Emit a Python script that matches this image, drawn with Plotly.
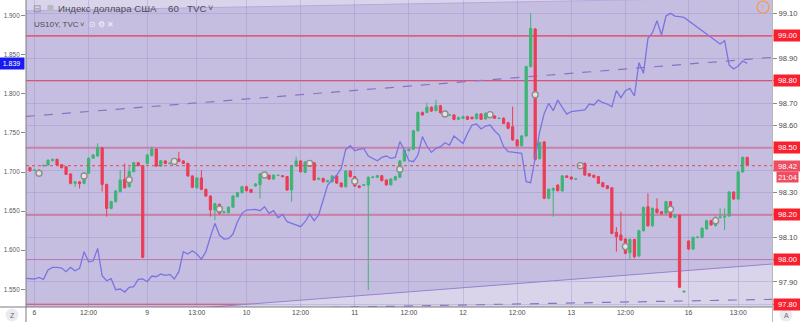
import plotly.graph_objects as go

# ---------------- data ----------------
bar = list(range(-1, 159))  # hourly bar index, 0 = Fri 6 00:00

dxy_open = [
    98.411, 98.399, 98.400, 98.419, 98.423, 98.442, 98.448, 98.424, 98.415, 98.383,
    98.341, 98.347, 98.341, 98.386, 98.453, 98.463, 98.500, 98.336, 98.229, 98.259,
    98.304, 98.359, 98.326, 98.393, 98.433, 98.420, 98.430, 98.465, 98.494, 98.418,
    98.441, 98.429, 98.437, 98.450, 98.441, 98.430, 98.374, 98.321, 98.365, 98.314,
    98.284, 98.222, 98.247, 98.211, 98.210, 98.234, 98.281, 98.299, 98.326, 98.313,
    98.329, 98.335, 98.386, 98.377, 98.360, 98.376, 98.375, 98.371, 98.311, 98.418,
    98.441, 98.390, 98.436, 98.433, 98.359, 98.363, 98.348, 98.348, 98.374, 98.342,
    98.326, 98.396, 98.371, 98.329, 98.332, 98.333, 98.367, 98.368, 98.375, 98.356,
    98.334, 98.356, 98.368, 98.441, 98.487, 98.493, 98.576, 98.658, 98.658, 98.681,
    98.666, 98.688, 98.654, 98.646, 98.647, 98.627, 98.632, 98.639, 98.636, 98.630,
    98.651, 98.629, 98.647, 98.642, 98.631, 98.632, 98.612, 98.594, 98.535, 98.509,
    98.553, 98.863, 99.031, 98.451, 98.526, 98.274, 98.310, 98.333, 98.307, 98.374,
    98.369, 98.360, 98.418, 98.430, 98.384, 98.377, 98.371, 98.344, 98.330, 98.321,
    98.122, 98.110, 98.092, 98.031, 98.090, 98.016, 98.129, 98.236, 98.151, 98.226,
    98.214, 98.207, 98.259, 98.189, 98.199, 97.855, 98.083, 98.047, 98.099, 98.099,
    98.137, 98.174, 98.152, 98.188, 98.190, 98.195, 98.302, 98.271, 98.392, 98.457,
]
dxy_close = [
    98.397, 98.400, 98.392, 98.421, 98.444, 98.448, 98.423, 98.411, 98.381, 98.341,
    98.347, 98.339, 98.386, 98.453, 98.468, 98.502, 98.336, 98.229, 98.259, 98.307,
    98.356, 98.321, 98.393, 98.433, 98.420, 98.010, 98.468, 98.494, 98.418, 98.442,
    98.430, 98.431, 98.440, 98.439, 98.430, 98.374, 98.323, 98.365, 98.314, 98.284,
    98.222, 98.250, 98.207, 98.213, 98.234, 98.284, 98.299, 98.326, 98.308, 98.301,
    98.338, 98.383, 98.375, 98.360, 98.377, 98.377, 98.371, 98.311, 98.418, 98.441,
    98.393, 98.436, 98.430, 98.356, 98.363, 98.348, 98.353, 98.374, 98.342, 98.326,
    98.396, 98.371, 98.329, 98.323, 98.335, 98.368, 98.369, 98.375, 98.353, 98.334,
    98.360, 98.371, 98.441, 98.490, 98.493, 98.576, 98.658, 98.647, 98.681, 98.664,
    98.688, 98.657, 98.648, 98.647, 98.627, 98.635, 98.639, 98.627, 98.630, 98.651,
    98.627, 98.654, 98.650, 98.632, 98.632, 98.609, 98.587, 98.535, 98.509, 98.553,
    98.863, 99.034, 98.448, 98.523, 98.274, 98.314, 98.318, 98.308, 98.374, 98.368,
    98.360, 98.361, 98.422, 98.378, 98.374, 98.368, 98.341, 98.326, 98.318, 98.117,
    98.102, 98.087, 98.028, 98.090, 98.013, 98.129, 98.233, 98.151, 98.229, 98.210,
    98.205, 98.259, 98.189, 98.199, 97.876, 97.858, 98.047, 98.099, 98.100, 98.140,
    98.174, 98.155, 98.189, 98.190, 98.193, 98.302, 98.271, 98.392, 98.457, 98.423,
]
dxy_high = [
    98.415, 98.404, 98.403, 98.424, 98.448, 98.452, 98.452, 98.427, 98.418, 98.386,
    98.350, 98.352, 98.390, 98.456, 98.472, 98.520, 98.503, 98.339, 98.263, 98.311,
    98.400, 98.430, 98.415, 98.437, 98.436, 98.423, 98.472, 98.505, 98.497, 98.446,
    98.444, 98.434, 98.444, 98.482, 98.444, 98.433, 98.377, 98.369, 98.400, 98.317,
    98.287, 98.254, 98.250, 98.216, 98.238, 98.288, 98.303, 98.330, 98.330, 98.316,
    98.342, 98.387, 98.390, 98.380, 98.381, 98.380, 98.378, 98.374, 98.422, 98.460,
    98.444, 98.440, 98.440, 98.436, 98.367, 98.366, 98.357, 98.378, 98.377, 98.345,
    98.400, 98.399, 98.374, 98.332, 98.338, 98.372, 98.372, 98.379, 98.378, 98.359,
    98.364, 98.375, 98.445, 98.494, 98.497, 98.580, 98.662, 98.662, 98.702, 98.685,
    98.714, 98.692, 98.658, 98.650, 98.650, 98.639, 98.643, 98.643, 98.640, 98.655,
    98.655, 98.658, 98.654, 98.646, 98.635, 98.636, 98.616, 98.684, 98.539, 98.557,
    98.867, 99.101, 99.035, 98.527, 98.530, 98.318, 98.322, 98.337, 98.378, 98.378,
    98.372, 98.364, 98.426, 98.434, 98.387, 98.380, 98.374, 98.347, 98.333, 98.324,
    98.145, 98.214, 98.095, 98.094, 98.093, 98.133, 98.237, 98.296, 98.233, 98.274,
    98.217, 98.263, 98.262, 98.203, 98.202, 97.861, 98.086, 98.103, 98.104, 98.144,
    98.178, 98.178, 98.193, 98.229, 98.229, 98.306, 98.305, 98.396, 98.461, 98.460,
]
dxy_low = [
    98.393, 98.396, 98.388, 98.416, 98.420, 98.439, 98.420, 98.407, 98.378, 98.336,
    98.326, 98.318, 98.337, 98.382, 98.450, 98.460, 98.304, 98.192, 98.225, 98.255,
    98.300, 98.317, 98.322, 98.390, 98.417, 98.006, 98.426, 98.461, 98.414, 98.415,
    98.427, 98.426, 98.434, 98.436, 98.427, 98.370, 98.319, 98.317, 98.310, 98.280,
    98.192, 98.177, 98.200, 98.206, 98.206, 98.230, 98.278, 98.296, 98.304, 98.297,
    98.325, 98.274, 98.371, 98.356, 98.357, 98.373, 98.368, 98.307, 98.259, 98.415,
    98.389, 98.386, 98.426, 98.352, 98.355, 98.344, 98.345, 98.345, 98.338, 98.322,
    98.322, 98.367, 98.325, 98.319, 98.329, 97.864, 98.364, 98.365, 98.350, 98.330,
    98.331, 98.353, 98.365, 98.438, 98.484, 98.490, 98.573, 98.643, 98.655, 98.660,
    98.663, 98.653, 98.645, 98.643, 98.623, 98.624, 98.629, 98.624, 98.627, 98.627,
    98.624, 98.626, 98.644, 98.629, 98.628, 98.605, 98.583, 98.531, 98.505, 98.505,
    98.549, 98.859, 98.444, 98.447, 98.270, 98.270, 98.192, 98.304, 98.303, 98.365,
    98.356, 98.357, 98.414, 98.374, 98.370, 98.364, 98.337, 98.322, 98.314, 98.113,
    98.035, 98.083, 98.024, 97.998, 98.005, 98.010, 98.125, 98.147, 98.147, 98.206,
    98.201, 98.203, 98.185, 98.185, 97.872, 97.852, 98.043, 98.043, 98.095, 98.095,
    98.133, 98.151, 98.148, 98.184, 98.132, 98.191, 98.267, 98.267, 98.388, 98.420,
]

# US10Y (left scale) – no quotes between bar 145 and 151
us10y_bar = list(range(-2, 145)) + list(range(152, 159))
us10y = [
    1.5640, 1.5636, 1.5632, 1.5653, 1.5627, 1.5747, 1.5781, 1.5781, 1.5772, 1.5726,
    1.5781, 1.5738, 1.5768, 1.5981, 1.5853, 1.5862, 1.6024, 1.5674, 1.5610, 1.5636,
    1.5495, 1.5504, 1.5465, 1.5525, 1.5534, 1.5627, 1.5632, 1.5597, 1.5670, 1.5661,
    1.5696, 1.5678, 1.5691, 1.5632, 1.5726, 1.5981, 1.5951, 1.5994, 1.5951, 1.5887,
    1.5981, 1.6173, 1.6344, 1.6195, 1.6143, 1.6148, 1.6207, 1.6365, 1.6472, 1.6514,
    1.6514, 1.6523, 1.6506, 1.6557, 1.6472, 1.6506, 1.6416, 1.6459, 1.6365, 1.6344,
    1.6322, 1.6301, 1.6365, 1.6463, 1.6378, 1.6450, 1.6642, 1.6834, 1.6898, 1.6962,
    1.7047, 1.7290, 1.7337, 1.7273, 1.7290, 1.7303, 1.7205, 1.7175, 1.7145, 1.7188,
    1.7205, 1.7175, 1.7188, 1.7389, 1.7282, 1.7145, 1.7133, 1.7218, 1.7453, 1.7333,
    1.7252, 1.7303, 1.7325, 1.7376, 1.7346, 1.7461, 1.7418, 1.7367, 1.7495, 1.7602,
    1.7615, 1.7551, 1.7589, 1.7602, 1.7529, 1.7474, 1.7324, 1.7261, 1.7256, 1.7252,
    1.7239, 1.6877, 1.6864, 1.7180, 1.7516, 1.7751, 1.7879, 1.7785, 1.7921, 1.7828,
    1.7742, 1.7772, 1.7781, 1.7781, 1.7794, 1.7870, 1.7858, 1.7921, 1.7887, 1.7870,
    1.7836, 1.8041, 1.7951, 1.8041, 1.8071, 1.7973, 1.8399, 1.8263, 1.8710, 1.8783,
    1.8936, 1.8753, 1.8996, 1.9030, 1.8996, 1.8988, 1.8979,
    1.8638, 1.8681, 1.8369, 1.8318, 1.8357, 1.8421, 1.8391,
]

# small event circles on the candles
marker_bar = [1, 11, 21, 31, 41, 51, 61, 71, 81, 91, 101, 111, 121, 131, 141, 151]
marker_price = [98.386, 98.374, 98.357, 98.439, 98.226, 98.378, 98.430, 98.350,
                98.404, 98.651, 98.648, 98.737, 98.420, 98.058, 98.225, 98.174]

x_tick_bars = [0, 12, 25, 36, 47, 59, 71, 83, 95, 107, 119, 131, 145, 156]
x_tick_text = ["6", "12:00", "9", "13:00", "10", "12:00", "11", "12:00",
               "12", "12:00", "13", "12:00", "16", "13:00"]

# plain grey price-scale labels (the others are hidden under the coloured boxes)
dxy_ticks = [97.8, 97.9, 98.0, 98.1, 98.2, 98.3, 98.4, 98.5, 98.6, 98.7, 98.8, 98.9, 99.0, 99.1]
dxy_tick_text = ["", "97.90", "", "98.10", "", "98.30", "", "",
                 "98.60", "98.70", "", "98.90", "", "99.10"]
us_ticks = [1.55, 1.60, 1.65, 1.70, 1.75, 1.80, 1.85, 1.90]
us_tick_text = ["1.550", "1.600", "1.650", "1.700", "1.750", "1.800", "1.850", "1.900"]

level_prices = [99.00, 98.80, 98.50, 98.20, 98.00, 97.80]
level_labels = ["99.00", "98.80", "98.50", "98.20", "98.00", "97.80"]
last_price = 98.42
last_label = "98.42"
timer_label = "21:04"
us10y_last = 1.839
us10y_last_label = "1.839"

# trend / channel drawings (bar index, price)
top_line_x, top_line_y = [-1.88, 163.5], [99.112, 99.173]
mid_dash_x, mid_dash_y = [-1.88, 163.5], [98.640, 98.904]
low_line_x, low_line_y = [-1.88, 163.5], [97.724, 97.980]
bot_dash_x, bot_dash_y = [-1.88, 163.5], [97.761, 97.822]

x_range = [-1.88, 163.5]
dxy_range = [97.7878, 99.1608]
us_range = [1.5274, 1.9201]

# ---------------- style ----------------
FONT = "Liberation Sans"
GREEN = "#3cb575"
RED = "#ec3c55"
BG_DARK = "#c6bee0"
BG_LIGHT = "#dad4eb"
GRID = "rgba(150,138,200,0.35)"
BOXRED = "#fa1f2e"

L, R, T, B = 26, 28, 0, 15
W, H = 800, 322
PW, PH = W - L - R, H - T - B


def px(x):
    return (x - L) / PW


def py(y):
    return (PH - y) / PH


fig = go.Figure()
fig.add_trace(go.Candlestick(
    x=bar, open=dxy_open, high=dxy_high, low=dxy_low, close=dxy_close,
    increasing=dict(line=dict(color=GREEN, width=1), fillcolor=GREEN),
    decreasing=dict(line=dict(color=RED, width=1), fillcolor=RED),
    whiskerwidth=0, showlegend=False, hoverinfo="skip", yaxis="y"))
fig.add_trace(go.Scatter(
    x=marker_bar, y=marker_price, mode="markers", yaxis="y", showlegend=False,
    marker=dict(symbol="circle", size=6, color="#e2e2e2",
                line=dict(color="#8e8e8e", width=1.4)), hoverinfo="skip"))
fig.add_trace(go.Scatter(
    x=us10y_bar, y=us10y, mode="lines", yaxis="y2", showlegend=False,
    line=dict(color="#7a74e2", width=1.3), hoverinfo="skip"))

shapes = []
# lighter areas outside the channels
shapes.append(dict(type="path", xref="x", yref="y", layer="below",
                   path=f"M {top_line_x[0]},{top_line_y[0]} L {top_line_x[1]},{top_line_y[1]} "
                        f"L {top_line_x[1]},99.6 L {top_line_x[0]},99.6 Z",
                   fillcolor=BG_LIGHT, line=dict(width=0)))
shapes.append(dict(type="path", xref="x", yref="y", layer="below",
                   path=f"M {low_line_x[0]},{low_line_y[0]} L {low_line_x[1]},{low_line_y[1]} "
                        f"L {low_line_x[1]},97.4 L {low_line_x[0]},97.4 Z",
                   fillcolor=BG_LIGHT, line=dict(width=0)))
# channel lines
shapes.append(dict(type="line", xref="x", yref="y", layer="below",
                   x0=top_line_x[0], y0=top_line_y[0], x1=top_line_x[1], y1=top_line_y[1],
                   line=dict(color="#b6a8de", width=1)))
shapes.append(dict(type="line", xref="x", yref="y", layer="below",
                   x0=low_line_x[0], y0=low_line_y[0], x1=low_line_x[1], y1=low_line_y[1],
                   line=dict(color="#9a80cf", width=1)))
shapes.append(dict(type="line", xref="x", yref="y", layer="below",
                   x0=mid_dash_x[0], y0=mid_dash_y[0], x1=mid_dash_x[1], y1=mid_dash_y[1],
                   line=dict(color="#8f6fc2", width=1.2, dash="dash")))
shapes.append(dict(type="line", xref="x", yref="y", layer="below",
                   x0=bot_dash_x[0], y0=bot_dash_y[0], x1=bot_dash_x[1], y1=bot_dash_y[1],
                   line=dict(color="#8f6fc2", width=1.2, dash="dash")))
# horizontal levels
level_styles = [("#ff2a3a", 1.3), ("#ee3c58", 1.1), ("rgba(228,70,110,0.5)", 2.2),
                ("rgba(228,70,110,0.5)", 2.2), ("rgba(205,95,150,0.8)", 1.0), ("#ef3048", 1.2)]
for v, (c, w) in zip(level_prices, level_styles):
    shapes.append(dict(type="line", xref="paper", yref="y", layer="below",
                       x0=0, x1=1, y0=v, y1=v, line=dict(color=c, width=w)))
shapes.append(dict(type="line", xref="paper", yref="y", layer="above",
                   x0=0, x1=1, y0=last_price, y1=last_price,
                   line=dict(color="rgba(236,70,95,0.85)", width=1.3, dash="dot")))
# frame lines
shapes.append(dict(type="line", xref="paper", yref="paper", x0=px(0), x1=px(772),
                   y0=py(307), y1=py(307), line=dict(color="#7d7d7d", width=1)))
shapes.append(dict(type="line", xref="paper", yref="paper", x0=px(26), x1=px(26),
                   y0=py(0), y1=py(322), line=dict(color="#7d7d7d", width=1)))
shapes.append(dict(type="line", xref="paper", yref="paper", x0=px(772.5), x1=px(772.5),
                   y0=py(0), y1=py(322), line=dict(color="#b8b8b8", width=1)))
# corner buttons
for cx, cy in [(12, 315), (786, 315)]:
    shapes.append(dict(type="circle", xref="paper", yref="paper",
                       x0=px(cx - 6.5), x1=px(cx + 6.5), y0=py(cy + 6.5), y1=py(cy - 6.5),
                       fillcolor="#ebebef", line=dict(width=0)))
shapes.append(dict(type="circle", xref="paper", yref="paper",
                   x0=px(757), x1=px(769), y0=py(13), y1=py(1),
                   fillcolor="rgba(0,0,0,0)", line=dict(color="#f29a4a", width=1.2)))
shapes.append(dict(type="rect", xref="paper", yref="paper",
                   x0=px(47.5), x1=px(53.5), y0=py(11), y1=py(5),
                   fillcolor="#b9b7c4", line=dict(width=0)))

ann = []
for v, t in zip(level_prices, level_labels):
    ann.append(dict(x=1, xref="paper", xanchor="left", xshift=1, y=v, yref="y",
                    text=t, showarrow=False, bgcolor=BOXRED, width=25, height=9, borderpad=1,
                    font=dict(family=FONT, size=7.6, color="white")))
ann.append(dict(x=1, xref="paper", xanchor="left", xshift=1, y=last_price, yref="y",
                text=last_label, showarrow=False, bgcolor="#ee4d62", width=25, height=8, borderpad=1,
                font=dict(family=FONT, size=7.6, color="white")))
ann.append(dict(x=1, xref="paper", xanchor="left", xshift=4, y=last_price, yref="y", yshift=-11.5,
                text=timer_label, showarrow=False, bgcolor="#ee4d62", width=19, height=8, borderpad=1,
                font=dict(family=FONT, size=7.4, color="white")))
ann.append(dict(x=0, xref="paper", xanchor="right", xshift=-1, y=us10y_last, yref="y2",
                text=us10y_last_label, showarrow=False, bgcolor="#1a1af5", width=23, height=9,
                borderpad=1, font=dict(family=FONT, size=7, color="white")))


def label(x, y, text, size, color, anchor="left"):
    ann.append(dict(x=px(x), y=py(y), xref="paper", yref="paper", xanchor=anchor,
                    yanchor="middle", text=text, showarrow=False,
                    font=dict(family=FONT, size=size, color=color)))


label(37, 8, "⊟", 10, "#8c8c96", "center")
label(56, 8, "Индекс доллара США", 9.7, "#4c4c55")
label(166, 8, "60", 9.7, "#4c4c55")
label(185, 8, "TVC", 9.7, "#4c4c55")
label(210, 8, "˅", 9, "#4c4c55", "center")
label(32, 24.5, "US10Y, TVC", 8, "#4c4c55")
label(82, 24.5, "˅", 7.5, "#4c4c55", "center")
label(92, 24.5, "⊙", 8, "#f4f4fa", "center")
label(101, 24.5, "⚙", 8, "#f4f4fa", "center")
label(110, 24.5, "✕", 7.5, "#f4f4fa", "center")
label(763, 7, "!", 8, "#f29a4a", "center")
label(12, 315, "Z", 7, "#6a6a6a", "center")
label(786, 315, "A", 7, "#6a6a6a", "center")

fig.update_layout(
    width=W, height=H,
    margin=dict(l=L, r=R, t=T, b=B, autoexpand=False),
    paper_bgcolor="white", plot_bgcolor=BG_DARK,
    showlegend=False, shapes=shapes, annotations=ann,
    font=dict(family=FONT),
    xaxis=dict(range=x_range, tickmode="array", tickvals=x_tick_bars, ticktext=x_tick_text,
               showgrid=True, gridcolor=GRID, gridwidth=1, zeroline=False, showline=False,
               ticks="", tickfont=dict(family=FONT, size=6.8, color="#4a4a4a"),
               rangeslider=dict(visible=False), automargin=False, fixedrange=True),
    yaxis=dict(side="right", range=dxy_range, tickmode="array", tickvals=dxy_ticks,
               ticktext=dxy_tick_text, showgrid=True, gridcolor=GRID, gridwidth=1,
               zeroline=False, showline=False, ticks="outside", ticklen=4, tickcolor="#8a8a8a",
               tickfont=dict(family=FONT, size=7.6, color="#4a4a4a"), automargin=False,
               fixedrange=True),
    yaxis2=dict(side="left", overlaying="y", range=us_range, tickmode="array",
                tickvals=us_ticks, ticktext=us_tick_text, showgrid=False, zeroline=False,
                showline=False, ticks="outside", ticklen=4, tickcolor="#8a8a8a",
                tickfont=dict(family=FONT, size=6.4, color="#5a5a5a"), automargin=False,
                fixedrange=True),
)

fig.write_html("out.html")
